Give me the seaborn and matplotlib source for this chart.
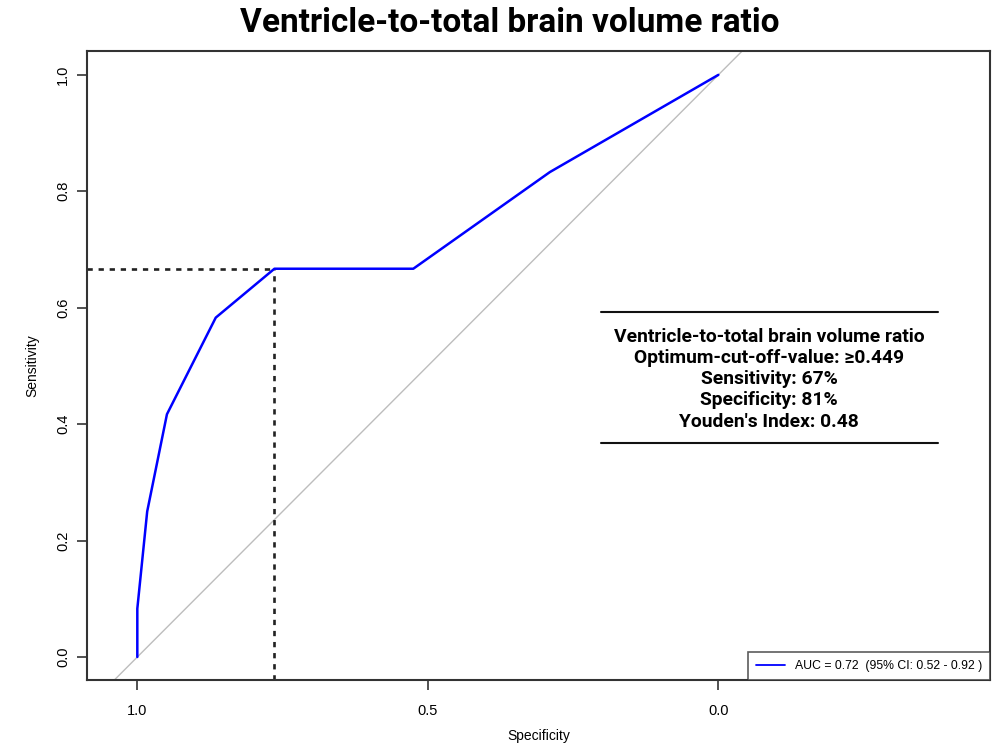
import numpy as np
import pandas as pd
import matplotlib
matplotlib.use("Agg")
import matplotlib.pyplot as plt
import seaborn as sns

# ROC curve points
specificity = [1.0, 1.0, 0.983, 0.949, 0.865, 0.764, 0.525, 0.290, 0.0]
sensitivity = [0.0, 0.083, 0.25, 0.417, 0.583, 0.667, 0.667, 0.833, 1.0]

cutoff_spec = 0.764
cutoff_sens = 0.667

chance_spec = [1.1, -0.1]
chance_sens = [-0.1, 1.1]

x_ticks = [1.0, 0.5, 0.0]
y_ticks = [0.0, 0.2, 0.4, 0.6, 0.8, 1.0]

title = "Ventricle-to-total brain volume ratio"
info_lines = [
    "Ventricle-to-total brain volume ratio",
    "Optimum-cut-off-value: \u22650.449",
    "Sensitivity: 67%",
    "Specificity: 81%",
    "Youden's Index: 0.48",
]
legend_label = "AUC = 0.72  (95% CI: 0.52 - 0.92 )"

roc = pd.DataFrame({"Specificity": specificity, "Sensitivity": sensitivity})

sns.set_style("white")
plt.rcParams["font.family"] = ["Liberation Sans", "DejaVu Sans"]
plt.rcParams["text.color"] = "black"
plt.rcParams["axes.labelcolor"] = "black"
plt.rcParams["xtick.color"] = "black"
plt.rcParams["ytick.color"] = "black"

fig = plt.figure(figsize=(9.92, 7.47), dpi=100)
ax = fig.add_axes([0.0877, 0.0897, 0.9103, 0.842])

xlim = (1.0866, -0.4676)
ylim = (-0.0395, 1.041)

# chance diagonal
ax.plot(chance_spec, chance_sens, color="#bdbdbd", lw=1.0, zorder=1)

# cutoff dashed guides
ax.hlines(cutoff_sens, xlim[0], cutoff_spec, colors="#222222", linestyles=(0, (2.0, 2.2)), lw=1.9, zorder=2)
ax.vlines(cutoff_spec, ylim[0], cutoff_sens, colors="#222222", linestyles=(0, (2.0, 2.2)), lw=1.9, zorder=2)

sns.lineplot(data=roc, x="Specificity", y="Sensitivity", sort=False, estimator=None,
             color="#0000ff", lw=1.8, ax=ax, label=legend_label, zorder=3)

ax.set_xlim(*xlim)
ax.set_ylim(*ylim)
ax.set_xticks(x_ticks)
ax.set_xticklabels([f"{v:.1f}" for v in x_ticks])
ax.set_yticks(y_ticks)
ax.set_yticklabels([f"{v:.1f}" for v in y_ticks], rotation=90, va="center")
ax.tick_params(axis="both", direction="out", length=7, width=1.2, color="#333333",
               labelsize=10.5, bottom=True, left=True)
ax.tick_params(axis="x", pad=10)
ax.tick_params(axis="y", pad=5)

for s in ax.spines.values():
    s.set_color("#333333")
    s.set_linewidth(1.5)
    s.set_visible(True)

ax.set_xlabel("Specificity", fontsize=10, labelpad=8)
ax.set_ylabel("Sensitivity", fontsize=10, labelpad=12)

fig.suptitle(title, fontsize=24, fontweight="bold", family=["Roboto", "DejaVu Sans"],
             x=0.514, y=0.99, color="black")

# info box
box_x0, box_x1 = 0.5687, 0.9425
line_top, line_bot = 0.5858, 0.3762
ax.plot([box_x0, box_x1], [line_top, line_top], transform=ax.transAxes, color="#111111", lw=1.5)
ax.plot([box_x0, box_x1], [line_bot, line_bot], transform=ax.transAxes, color="#111111", lw=1.5)
ax.text((box_x0 + box_x1) / 2, 0.478, "\n".join(info_lines), transform=ax.transAxes,
        ha="center", va="center", fontsize=13.9, fontweight="bold",
        family=["Roboto", "DejaVu Sans"], linespacing=1.22, color="black")

leg = ax.legend(loc="lower right", frameon=True, fancybox=False, edgecolor="#333333",
                fontsize=8.8, borderaxespad=0, handlelength=2.4, borderpad=0.65)
leg.get_frame().set_linewidth(1.2)
for h in leg.get_lines():
    h.set_linewidth(1.3)

fig.savefig("out.png", dpi=100)
